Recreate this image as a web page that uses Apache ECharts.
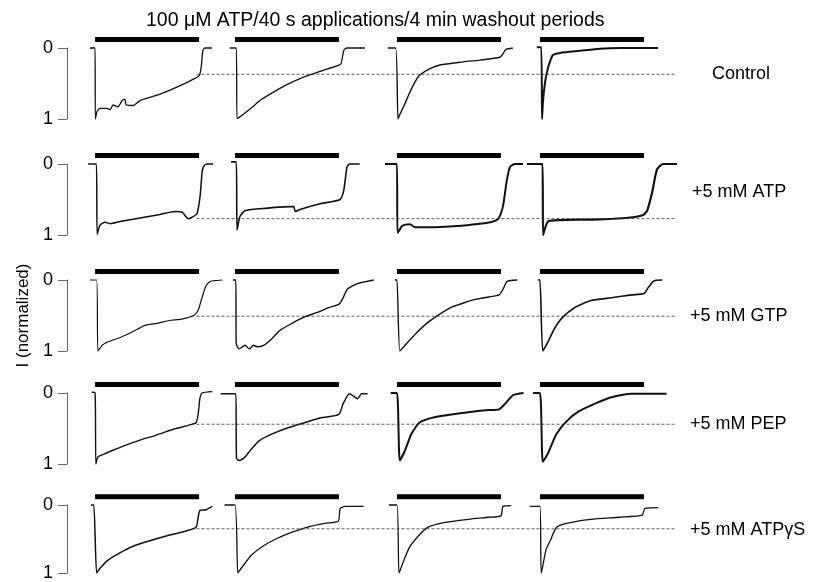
<!DOCTYPE html>
<html>
<head>
<meta charset="utf-8">
<script src="https://cdn.jsdelivr.net/npm/echarts@6/dist/echarts.min.js"></script>
<style>
  html, body { margin: 0; padding: 0; background: #fff; }
  #chart { width: 816px; height: 582px; }
</style>
</head>
<body>
<div id="chart"></div>
<script>
// ---- data ----
const titleText = '100 \u03bcM ATP/40 s applications/4 min washout periods';
const yName = 'I (normalized)';
const rowLabels = ['Control', '+5 mM ATP', '+5 mM GTP', '+5 mM PEP', '+5 mM ATP\u03b3S'];
const yTicks = [0, 1];
const sweepStart = [10.8, 64.6, 126.9, 181.9]; // s, onset of each application
const appDuration = 40;                          // s
const washLevel = [0.37, 0.77, 0.51, 0.44, 0.35];

// [time from application onset (s), normalized current]
const controlSweeps = [
  [[-2,0],[0,0],[0.1,1.0],[0.8,0.89],[1.9,0.85],[4.6,0.85],[5.8,0.87],[6.9,0.80],[8.8,0.83],[10.4,0.74],[11.5,0.72],[11.9,0.80],[14.6,0.81],[17.3,0.74],[25,0.65],[32.7,0.53],[40,0.39],[40.8,0.27],[41.5,0.03],[42.3,0],[45,0]],
  [[-2,0],[0.5,0],[0.8,0.99],[1.9,0.97],[5.8,0.86],[9.6,0.74],[13.5,0.65],[19.2,0.53],[25,0.43],[32.7,0.33],[40,0.24],[40.8,0.22],[41.9,0.03],[43,0],[50,0]],
  [[-3.5,0],[-0.5,0],[0.4,1.0],[1.2,0.93],[3.1,0.78],[5,0.62],[6.9,0.48],[8.8,0.38],[12.7,0.29],[16.5,0.24],[24.2,0.2],[31.9,0.17],[39.6,0.13],[40.8,0.08],[41.9,0.02],[44.6,0]],
  [[-1.2,-0.01],[0.5,-0.01],[0.8,1.0],[1.2,0.74],[1.9,0.5],[2.7,0.34],[3.8,0.2],[5,0.1],[7.7,0.07],[15.4,0.04],[23,0.01],[30.8,0],[45.4,0]]
];
const atpSweeps = [
  [[-2.7,0],[0.5,0],[0.8,0.99],[1.9,0.86],[3.8,0.82],[5.8,0.84],[9.6,0.81],[17.3,0.76],[25,0.71],[30.8,0.67],[33.5,0.68],[35.8,0.77],[37.3,0.75],[39.2,0.70],[40.4,0.45],[41.2,0.1],[42,0.02],[43,0],[45.4,0]],
  [[-1.5,-0.03],[0.5,-0.03],[0.8,0.93],[1.9,0.74],[3.8,0.66],[9.6,0.63],[21.2,0.6],[22.7,0.6],[23.1,0.67],[25,0.64],[32.7,0.56],[40.4,0.5],[41.9,0.36],[43.1,0.04],[44.2,0],[48,0]],
  [[-4.6,0],[0,0],[0.2,0.97],[1,0.93],[2,0.87],[5,0.85],[7,0.89],[15,0.89],[25,0.87],[30,0.85],[36,0.82],[39,0.77],[40.8,0.59],[42.3,0.22],[43.5,0.04],[45.4,0],[48.5,0]],
  [[-5,0],[1,0],[1.2,1.0],[3.1,0.81],[7.7,0.79],[23,0.78],[35.8,0.75],[39.6,0.72],[41.2,0.66],[43.1,0.41],[45,0.08],[47.3,0],[52.7,0]]
];
const gtpSweeps = [
  [[-2,0],[0.6,0],[1.1,1.0],[2.7,0.92],[5,0.87],[9.7,0.81],[14.4,0.73],[19.2,0.64],[23.9,0.61],[28.6,0.57],[33.3,0.55],[38,0.5],[39.6,0.43],[41.1,0.25],[42.7,0.08],[44.3,0.02],[45.8,0.01],[49,0]],
  [[-0.8,0],[0.3,0],[0.5,0.9],[1.6,0.97],[3.9,0.92],[5.5,0.97],[7.1,0.92],[8.6,0.94],[11,0.92],[14.1,0.83],[17.3,0.71],[22,0.61],[26.7,0.52],[31.4,0.46],[36.1,0.39],[40,0.34],[41.6,0.25],[43.2,0.13],[47.1,0.05],[53.4,0]],
  [[-0.8,0],[0,0],[1.1,1.0],[3.1,0.92],[7.1,0.76],[11.8,0.6],[16.5,0.48],[21.2,0.38],[25.9,0.32],[30.6,0.27],[35.3,0.24],[39.3,0.21],[40.8,0.13],[42.4,0.02],[46.3,0]],
  [[-0.8,0],[0,0],[1.1,1.0],[3.1,0.87],[5.5,0.69],[8.6,0.53],[13.3,0.39],[19.6,0.29],[27.5,0.25],[35.3,0.21],[40,0.19],[41.6,0.11],[43.9,0.01],[47.1,0]]
];
const pepSweeps = [
  [[-1.3,-0.01],[0,0],[0.3,1.0],[1.1,0.9],[3.5,0.86],[6.6,0.81],[11.3,0.74],[17.6,0.66],[23.9,0.59],[30.1,0.51],[36.4,0.45],[38.8,0.42],[39.6,0.31],[40.3,0.08],[41.1,0],[45.1,-0.02]],
  [[-5.5,0.01],[0.3,0.01],[0.6,0.92],[1.6,0.95],[3.9,0.9],[6.3,0.79],[9.4,0.67],[14.1,0.58],[20.4,0.49],[26.7,0.42],[33,0.35],[40,0.3],[41.6,0.15],[44,0.01],[45.5,0.04],[47.1,0.08],[48.7,0.01],[51,0.01]],
  [[-2.4,0],[0,0],[1.1,0.95],[3.1,0.81],[5.5,0.58],[8.6,0.42],[13.3,0.35],[19.6,0.31],[27.5,0.27],[35.3,0.24],[39.3,0.23],[41.6,0.15],[44.7,0.03],[48.7,0]],
  [[-2.7,0],[0,0],[1.1,0.97],[3.1,0.85],[6.3,0.58],[10.2,0.4],[14.9,0.26],[21.2,0.15],[27.5,0.06],[35.3,0.01],[48.7,0.01]]
];
const atpgsSweeps = [
  [[-1.6,0],[-0.5,0],[0.6,1.0],[1.9,0.93],[5,0.81],[9.7,0.7],[14.4,0.61],[20.7,0.53],[27,0.46],[33.3,0.4],[38.8,0.33],[39.6,0.19],[40.3,0.08],[42.7,0.07],[45.1,0.02]],
  [[-4,0],[0,0],[1.1,1.0],[2.4,0.93],[6.3,0.74],[11,0.6],[15.7,0.5],[22,0.4],[28.3,0.32],[34.5,0.27],[39.7,0.24],[40.5,0.05],[42.4,0.02],[49.5,0.02]],
  [[-3.1,0],[0,0],[0.8,1.0],[2.4,0.84],[4.7,0.63],[7.9,0.47],[11.8,0.33],[18,0.26],[27.5,0.21],[35.3,0.18],[40,0.16],[40.8,0.02],[44,0.01]],
  [[-3.9,0.02],[0,0.02],[0.5,1.0],[2.4,0.65],[3.9,0.53],[6.3,0.33],[10.2,0.27],[19.6,0.21],[30.6,0.18],[39.3,0.15],[40.4,0.05],[45.5,0.04]]
];

// ---- layout ----
const rows = [controlSweeps, atpSweeps, gtpSweeps, pepSweeps, atpgsSweeps];
const rowTop = [48, 164, 280, 393, 505];
const rowHeight = 71;
const barLevel = -0.12;
const washFrom = 39;   // s after first onset
const washTo = 234;    // s on the row time axis
const labelPos = [[712, 74], [692, 192], [690, 316], [690, 424], [690, 530]];
// noisier recordings look thicker in the original
const traceWidth = [
  [1.3, 1.3, 1.4, 2.0],
  [1.5, 1.6, 2.0, 2.2],
  [1.2, 1.4, 1.4, 1.6],
  [1.4, 1.5, 2.0, 2.0],
  [1.5, 1.3, 1.3, 1.3]
];
const FONT = '"Liberation Sans", Arial, Helvetica, sans-serif';

const chart = echarts.init(document.getElementById('chart'), null, { renderer: 'canvas' });

const grids = [], xAxes = [], yAxes = [], series = [];
rows.forEach((sweeps, r) => {
  grids.push({ left: 67, top: rowTop[r], width: 624, height: rowHeight });
  xAxes.push({ gridIndex: r, type: 'value', min: 0, max: 240, show: false });
  yAxes.push({
    gridIndex: r, type: 'value', min: yTicks[0], max: yTicks[1], interval: 1, inverse: true,
    axisLine: { show: true, lineStyle: { color: '#666', width: 1 } },
    axisTick: { show: true, length: 9, lineStyle: { color: '#666', width: 1 } },
    axisLabel: { fontSize: 18, color: '#000', margin: 14, fontFamily: FONT },
    splitLine: { show: false },
    name: r === 2 ? yName : '',
    nameLocation: 'middle', nameRotate: 90, nameGap: 35,
    nameTextStyle: { fontSize: 17, color: '#000', fontFamily: FONT }
  });
  sweeps.forEach((pts, k) => {
    series.push({
      type: 'line', xAxisIndex: r, yAxisIndex: r, clip: false, symbol: 'none', silent: true,
      smooth: 0.2,
      lineStyle: { color: '#111', width: traceWidth[r][k], join: 'round' },
      data: pts.map(p => [sweepStart[k] + p[0], p[1]])
    });
    series.push({
      type: 'line', xAxisIndex: r, yAxisIndex: r, clip: false, symbol: 'none', silent: true,
      lineStyle: { color: '#000', width: 5, cap: 'butt' },
      data: [[sweepStart[k], barLevel], [sweepStart[k] + appDuration, barLevel]]
    });
  });
  series.push({
    type: 'line', xAxisIndex: r, yAxisIndex: r, clip: false, symbol: 'none', silent: true,
    lineStyle: { color: '#333', width: 0.8, type: [3, 2] },
    data: [[sweepStart[0] + washFrom, washLevel[r]], [washTo, washLevel[r]]]
  });
});

const option = {
  animation: false,
  backgroundColor: '#fff',
  title: {
    text: titleText, left: 141, top: 6,
    textStyle: { fontSize: 19.5, fontWeight: 'normal', color: '#000', fontFamily: FONT }
  },
  grid: grids,
  xAxis: xAxes,
  yAxis: yAxes,
  series: series,
  graphic: rowLabels.map((t, r) => ({
    type: 'text', x: labelPos[r][0], y: labelPos[r][1], silent: true,
    style: { text: t, font: '18px ' + FONT, fill: '#000', verticalAlign: 'middle', align: 'left' }
  }))
};
chart.setOption(option);
</script>
</body>
</html>
